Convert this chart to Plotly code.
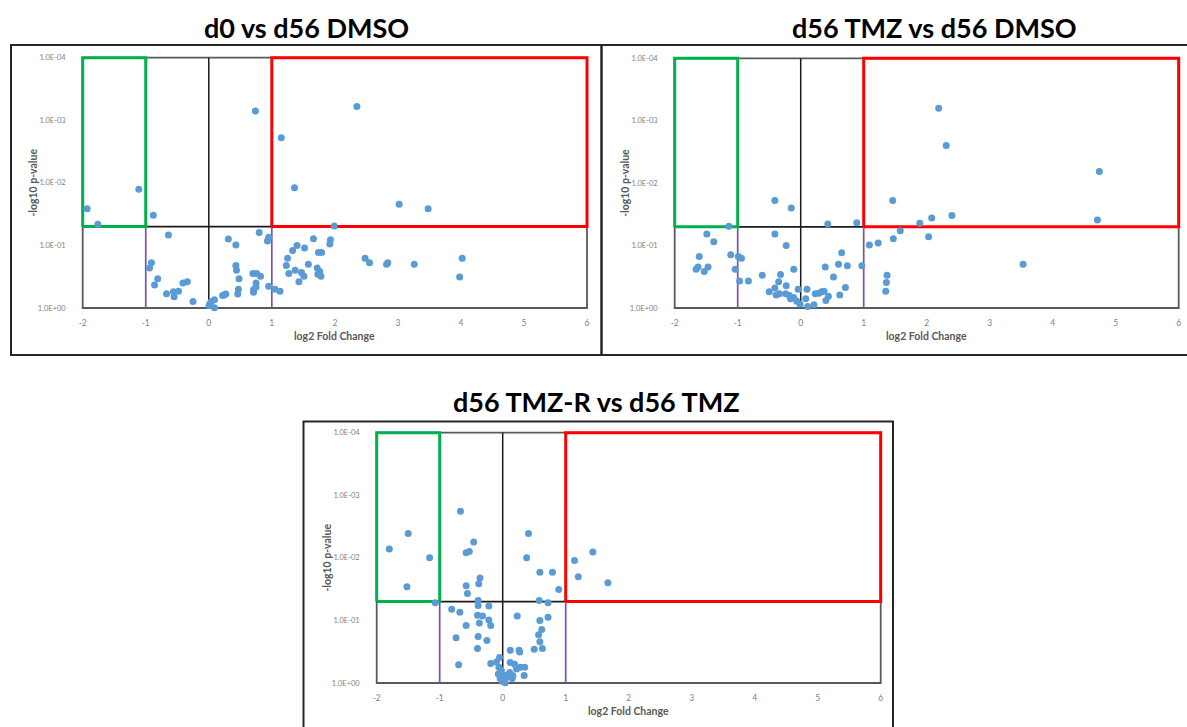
import numpy as np
import plotly.graph_objects as go

W, H = 1187, 727

# ---- data: log2 fold change and p-values for each comparison ----
d0_fc = [0.74, 1.15, 1.36, -1.11, -1.93, -1.76, -0.88, -0.64, -0.91, -0.94,
         -0.81, -0.86, -0.67, -0.56, -0.55, -0.48, -0.41, -0.34, -0.25, 0.005,
         0.04, 0.09, 0.09, 0.02, 0.22, 0.24, 0.27, 0.31, 0.43, 0.43,
         0.44, 0.48, 0.47, 0.46, 0.80, 0.95, 0.93, 0.70, 0.76, 0.82,
         0.75, 0.75, 0.71, 0.71, 0.95, 1.05, 1.13, 1.25, 1.23, 1.27,
         1.33, 1.40, 1.52, 1.37, 1.43, 1.47, 1.51, 1.58, 2.35, 3.02,
         3.48, 1.99, 1.66, 1.93, 1.92, 1.74, 1.79, 1.72, 1.75, 1.73,
         1.78, 1.76, 2.48, 2.55, 2.82, 2.84, 3.26, 4.02, 3.98]
d0_p = [7.1e-4, 1.9e-3, 1.2e-2, 1.26e-2, 2.6e-2, 4.6e-2, 3.3e-2, 6.8e-2, 0.19, 0.23,
        0.34, 0.43, 0.59, 0.55, 0.66, 0.54, 0.40, 0.38, 0.79, 0.91,
        0.79, 0.74, 0.99, 0.85, 0.63, 0.62, 0.60, 0.079, 0.098, 0.21,
        0.25, 0.34, 0.50, 0.60, 0.062, 0.074, 0.085, 0.28, 0.28, 0.31,
        0.40, 0.46, 0.51, 0.56, 0.45, 0.50, 0.54, 0.16, 0.21, 0.28,
        0.12, 0.10, 0.11, 0.25, 0.38, 0.27, 0.31, 0.20, 6.0e-4, 2.2e-2,
        2.6e-2, 4.9e-2, 7.8e-2, 8.1e-2, 9.5e-2, 0.13, 0.13, 0.23, 0.28, 0.29,
        0.31, 0.26, 0.16, 0.19, 0.20, 0.19, 0.20, 0.16, 0.32]

tmz_fc = [-0.41, -0.15, 0.43, 0.89, 1.46, -1.14, -1.49, -1.38, -1.61, -1.66,
          -1.63, -1.53, -1.47, -1.11, -0.99, -0.94, -1.04, -0.97, -0.83, -0.61,
          -0.41, -0.23, -0.11, -0.32, -0.35, -0.41, -0.50, -0.39, -0.34, -0.23,
          -0.24, -0.18, -0.16, -0.11, -0.04, -0.06, -0.01, 0.10, 0.08, 0.11,
          0.21, 0.23, 0.29, 0.33, 0.37, 0.39, 0.40, 0.44, 0.52, 0.60,
          0.65, 0.62, 0.74, 0.71, 0.97, 1.09, 1.23, 1.47, 1.37, 1.36,
          1.35, 1.58, 2.19, 2.31, 4.74, 4.71, 2.40, 2.08, 1.89, 2.03, 3.53]
tmz_p = [0.019, 0.025, 0.045, 0.043, 0.019, 0.049, 0.065, 0.087, 0.15, 0.24,
         0.22, 0.26, 0.22, 0.14, 0.15, 0.16, 0.24, 0.37, 0.37, 0.30,
         0.065, 0.10, 0.24, 0.29, 0.38, 0.48, 0.55, 0.62, 0.59, 0.44,
         0.59, 0.63, 0.71, 0.68, 0.50, 0.78, 0.87, 0.50, 0.71, 0.95,
         0.89, 0.59, 0.58, 0.55, 0.54, 0.22, 0.76, 0.65, 0.32, 0.20,
         0.13, 0.62, 0.21, 0.47, 0.21, 0.098, 0.091, 0.078, 0.30, 0.39,
         0.54, 0.058, 6.3e-4, 2.5e-3, 6.5e-3, 0.039, 0.033, 0.036, 0.044, 0.072, 0.20]

tmzr_fc = [-1.80, -1.50, -1.16, -1.52, -1.07, -0.67, -0.46, -0.58, -0.53, -0.36,
           -0.38, -0.58, -0.56, -0.39, -0.39, -0.22, -0.81, -0.68, -0.40, -0.32,
           -0.37, -0.22, -0.19, -0.58, -0.74, -0.39, -0.25, -0.40, -0.70, -0.19,
           -0.10, -0.05, -0.06, -0.07, -0.02, 0.03, -0.04, 0.01, 0.04, 0.11,
           0.12, 0.12, 0.16, 0.15, 0.19, 0.22, 0.26, 0.27, 0.28, 0.35,
           0.34, 0.23, 0.41, 0.38, 0.59, 0.79, 0.89, 0.58, 0.72, 0.72,
           0.59, 0.62, 0.57, 0.59, 0.63, 0.50, 1.14, 1.20, 1.43, 1.67,
           0.00, 0.06, -0.03]
tmzr_p = [7.2e-3, 4.1e-3, 1.0e-2, 2.9e-2, 5.2e-2, 1.8e-3, 5.6e-3, 8.3e-3, 7.9e-3, 2.1e-2,
          2.6e-2, 2.8e-2, 3.7e-2, 4.8e-2, 5.8e-2, 5.9e-2, 6.6e-2, 7.4e-2, 8.3e-2, 8.5e-2,
          0.11, 0.098, 0.12, 0.12, 0.19, 0.18, 0.21, 0.28, 0.51, 0.49,
          0.46, 0.39, 0.56, 0.72, 0.63, 0.76, 0.85, 0.93, 0.99, 0.68,
          0.30, 0.47, 0.76, 0.85, 0.50, 0.60, 0.30, 0.32, 0.56, 0.56,
          0.76, 0.085, 4.1e-3, 1.0e-2, 1.7e-2, 1.7e-2, 3.2e-2, 4.8e-2, 5.2e-2, 8.9e-2,
          0.10, 0.14, 0.17, 0.22, 0.28, 0.29, 1.1e-2, 2.0e-2, 8.1e-3, 2.5e-2,
          0.95, 0.81, 0.71]

titles = ["d0 vs d56 DMSO", "d56 TMZ vs d56 DMSO", "d56 TMZ-R vs d56 TMZ"]
x_ticks = [-2, -1, 0, 1, 2, 3, 4, 5, 6]
y_ticks = [1e-4, 1e-3, 1e-2, 1e-1, 1e0]
y_tick_text = ["1.0E-04", "1.0E-03", "1.0E-02", "1.0E-01", "1.0E+00"]

P_CUT = 0.05
FC_CUT = 1
X_MIN, X_MAX = -2, 6
P_MIN, P_MAX = 1e-4, 1.0

# pixel box of each plot area: (x=-2, x=6, p=1e-4, p=1)
boxes = [(82.7, 587.0, 57.7, 308.0),
         (674.7, 1178.7, 58.3, 308.0),
         (376.7, 880.7, 432.7, 683.0)]
# frame rectangles around each chart (pixels)
frames = [(11, 45, 601.5, 355), (601.5, 45, 1195, 355), (303.5, 421.5, 893, 735)]
title_pos = [(306.5, 27), (934.5, 27), (596.5, 401)]

series = [(d0_fc, d0_p), (tmz_fc, tmz_p), (tmzr_fc, tmzr_p)]

TEXT_GRAY = "#595959"
FONT = "Lato"
PAD = 5

fig = go.Figure()
layout = dict(width=W, height=H, margin=dict(l=0, r=0, t=0, b=0),
              paper_bgcolor="white", plot_bgcolor="white", showlegend=False)
annotations = []
shapes = []

for i, ((xl, xr, yt, yb), (fc, pv)) in enumerate(zip(boxes, series)):
    sfx = "" if i == 0 else str(i + 1)
    xa, ya = "x" + sfx, "y" + sfx
    ux = (xr - xl) / (X_MAX - X_MIN)
    uy = (yb - yt) / (np.log10(P_MAX) - np.log10(P_MIN))
    layout["xaxis" + sfx] = dict(
        domain=[(xl - PAD) / W, (xr + PAD) / W],
        range=[X_MIN - PAD / ux, X_MAX + PAD / ux],
        anchor=ya, showgrid=False, zeroline=False, showline=False, ticks="",
        tickvals=x_ticks, ticktext=[str(v) for v in x_ticks],
        tickfont=dict(family=FONT, size=8.5, color="#7f7f7f"),
        ticklabelstandoff=3, fixedrange=True)
    layout["yaxis" + sfx] = dict(
        domain=[1 - (yb + PAD) / H, 1 - (yt - PAD) / H],
        type="log",
        range=[np.log10(P_MAX) + PAD / uy, np.log10(P_MIN) - PAD / uy],
        anchor=xa, showgrid=False, zeroline=False, showline=False, ticks="",
        tickvals=y_ticks, ticktext=y_tick_text,
        tickfont=dict(family=FONT, size=7.5, color="#7f7f7f"),
        ticklabelstandoff=11, fixedrange=True)

    def seg(xs, ys, color, width):
        fig.add_trace(go.Scatter(x=xs, y=ys, mode="lines", xaxis=xa, yaxis=ya,
                                 line=dict(color=color, width=width),
                                 hoverinfo="skip", cliponaxis=False))

    # plot-area border
    seg([X_MIN, X_MAX, X_MAX, X_MIN, X_MIN], [P_MIN, P_MIN, P_MAX, P_MAX, P_MIN],
        "#595959", 1.8)
    # significance threshold and zero line
    seg([X_MIN, X_MAX], [P_CUT, P_CUT], "#1a1a1a", 1.8)
    seg([0, 0], [P_MAX, P_MIN], "#1a1a1a", 1.5)
    # fold-change cut-offs below threshold
    seg([-FC_CUT, -FC_CUT], [P_MAX, P_CUT], "#7F4FB0", 1.7)
    seg([FC_CUT, FC_CUT], [P_MAX, P_CUT], "#7F4FB0", 1.7)
    # down-regulated (green) and up-regulated (red) regions
    seg([X_MIN, -FC_CUT, -FC_CUT, X_MIN, X_MIN], [P_CUT, P_CUT, P_MIN, P_MIN, P_CUT],
        "#00B050", 3)
    seg([FC_CUT, X_MAX, X_MAX, FC_CUT, FC_CUT], [P_CUT, P_CUT, P_MIN, P_MIN, P_CUT],
        "#FF0000", 3)

    fig.add_trace(go.Scatter(x=fc, y=pv, mode="markers", xaxis=xa, yaxis=ya,
                             marker=dict(color="#5B9BD5", size=7),
                             cliponaxis=False))

    # chart title and axis titles
    tx, ty = title_pos[i]
    annotations.append(dict(text="<b>%s</b>" % titles[i], x=tx / W, y=1 - ty / H,
                            xref="paper", yref="paper", showarrow=False,
                            font=dict(family=FONT, size=27, color="black"),
                            xanchor="center", yanchor="middle"))
    annotations.append(dict(text="<b>log2 Fold Change</b>", x=(xl + xr) / 2 / W,
                            y=1 - (yb + 28) / H, xref="paper", yref="paper",
                            showarrow=False, xanchor="center", yanchor="middle",
                            font=dict(family=FONT, size=10.5, color=TEXT_GRAY)))
    annotations.append(dict(text="<b>-log10 p-value</b>", x=(xl - 50) / W,
                            y=1 - (yt + yb) / 2 / H, xref="paper", yref="paper",
                            showarrow=False, textangle=-90, xanchor="center",
                            yanchor="middle",
                            font=dict(family=FONT, size=10.5, color=TEXT_GRAY)))

    fx0, fy0, fx1, fy1 = frames[i]
    shapes.append(dict(type="rect", xref="paper", yref="paper",
                       x0=fx0 / W, x1=fx1 / W, y0=1 - fy0 / H, y1=1 - fy1 / H,
                       line=dict(color="#262626", width=2)))

layout["annotations"] = annotations
layout["shapes"] = shapes
fig.update_layout(**layout)
fig.write_html("out.html")
